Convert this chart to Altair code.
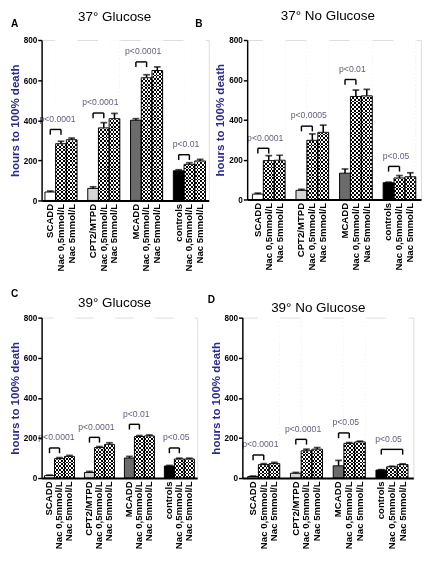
import altair as alt
import pandas as pd

# ---------------- data ----------------
groups = ["SCADD", "CPT2/MTPD", "MCADD", "controls"]
treatments = ["Nac 0,5mmol/L", "Nac 5mmol/L"]
group_fills = ["#ffffff", "#d4d4d4", "#6b6b6b", "#000000"]

titles = ["37° Glucose", "37° No Glucose", "39° Glucose", "39° No Glucose"]
y_ticks = [0, 200, 400, 600, 800]

a_mean = [42, 283, 303, 60, 362, 408, 400, 612, 648, 148, 180, 197]
a_err = [5, 12, 8, 8, 26, 26, 8, 15, 18, 5, 8, 8]
a_brk_level = [354, 436, 691, 228]
a_brk_p = ["p<0.0001", "p<0.0001", "p<0.0001", "p<0.01"]
a_brk_end = [1, 1, 1, 1]

b_mean = [27, 195, 197, 46, 297, 337, 132, 517, 520, 84, 108, 114]
b_err = [5, 25, 25, 5, 32, 36, 21, 32, 32, 3, 12, 20]
b_brk_level = [257, 368, 602, 166]
b_brk_p = ["p<0.0001", "p<0.0005", "p<0.01", "p<0.05"]
b_brk_end = [1, 1, 1, 1]

c_mean = [12, 97, 108, 28, 152, 168, 100, 207, 210, 60, 95, 95]
c_err = [3, 5, 5, 5, 5, 8, 8, 5, 5, 3, 4, 4]
c_brk_level = [150, 203, 268, 150]
c_brk_p = ["p<0.0001", "p<0.0001", "p<0.01", "p<0.05"]
c_brk_end = [1, 1, 1, 1]

d_mean = [8, 67, 72, 24, 136, 144, 61, 173, 180, 40, 56, 67]
d_err = [2, 5, 6, 4, 8, 8, 27, 4, 4, 2, 3, 4]
d_brk_level = [115, 193, 225, 143]
d_brk_p = ["p<0.0001", "p<0.0001", "p<0.05", "p<0.05"]
d_brk_end = [1, 1, 1, 2]

# ---------------- styling ----------------
FONT = "Liberation Sans, Arial, sans-serif"
P_COLOR = "#665c7e"
TITLE_BLUE = "#2a2a8c"


def key(gi, bi):
    lab = groups[gi] if bi == 0 else treatments[bi - 1]
    return f"{gi}{bi}|{lab}"


domain = []
for gi in range(len(groups)):
    for bi in range(3):
        domain.append(key(gi, bi))
    if gi < len(groups) - 1:
        domain.append(f"{gi}s|")


def stripes(n, vertical):
    stops = []
    for i in range(n):
        c = "#000000" if i % 2 == 0 else "#ffffff"
        stops.append(alt.GradientStop(offset=i / n, color=c))
        stops.append(alt.GradientStop(offset=(i + 1) / n, color=c))
    if vertical:
        return alt.LinearGradient(gradient="linear", stops=stops, x1=0, x2=1, y1=0, y2=0)
    return alt.LinearGradient(gradient="linear", stops=stops, x1=0, x2=0, y1=0, y2=1)


def panel(idx, means, errs, levels, plabels, ends, W, H, po, title_pos, letter_specs):
    rows = []
    for gi in range(len(groups)):
        for bi in range(3):
            i = gi * 3 + bi
            rows.append({
                "key": key(gi, bi),
                "mean": means[i],
                "top": means[i] + errs[i],
                "chk": bi > 0,
                "fill": group_fills[gi] if bi == 0 else "transparent",
            })
    df = pd.DataFrame(rows)
    br = pd.DataFrame({
        "k1": [key(gi, 0) for gi in range(len(groups))],
        "k2": [key(gi, ends[gi]) for gi in range(len(groups))],
        "level": levels,
        "p": plabels,
    })
    step = W / (len(domain) + 2 * po)

    xs = alt.Scale(domain=domain, paddingInner=0, paddingOuter=po)
    ys = alt.Scale(domain=[0, 800], nice=False, zero=True)
    xaxis = alt.Axis(title=None, labelAngle=270, labelExpr="split(datum.value, '|')[1]",
                     ticks=False, labelFontSize=10, labelFontWeight="bold", labelFont=FONT,
                     labelColor="black", domainColor="black", domainWidth=2, labelPadding=3,
                     labelLimit=300, labelOverlap=False, zindex=1)
    yaxis = alt.Axis(title="hours to 100% death", values=y_ticks, format="d", grid=False,
                     labelFontSize=8.5, labelFontWeight="bold", labelFont=FONT, labelColor="black",
                     domainColor="black", domainWidth=1.5, tickColor="black", tickWidth=1.5,
                     tickSize=4, labelPadding=1, titleColor=TITLE_BLUE, titleFontSize=12,
                     titleFontWeight="bold", titleFont=FONT, titlePadding=2, zindex=1)

    def X(f, **kw):
        return alt.X(f, type="nominal", scale=xs, axis=xaxis, **kw)

    def Y(f):
        return alt.Y(f, type="quantitative", scale=ys, axis=yaxis)

    base = alt.Chart(df)
    chk = base.transform_filter("datum.chk")

    col0 = chk.mark_bar(fill=stripes(int(round(H / 1.9)), False), strokeWidth=0).encode(
        x=X("key"), y=alt.datum(0), y2=alt.datum(800))
    vbar = chk.mark_bar(fill=stripes(6, True), strokeWidth=0, blend="difference").encode(
        x=X("key"), y=Y("mean"), y2=alt.datum(0))
    cover = chk.mark_bar(fill="white", stroke="white", strokeWidth=1.2).encode(
        x=X("key"), y=Y("mean"), y2=alt.datum(800))
    bars = base.mark_bar(stroke="black", strokeWidth=1).encode(
        x=X("key"), y=Y("mean"), fill=alt.Fill("fill:N", scale=None))
    whisk = base.mark_rule(color="black", strokeWidth=1.6).encode(
        x=X("key"), y=Y("mean"), y2="top:Q")
    caps = base.mark_tick(color="black", thickness=1.8, size=7).encode(
        x=X("key"), y=Y("top"))

    bb = alt.Chart(br).transform_calculate(lo="datum.level - 26")
    hrule = bb.mark_rule(color="black", strokeWidth=1.5).encode(
        x=X("k1"), x2="k2:N", y=Y("level"))
    leg1 = bb.mark_rule(color="black", strokeWidth=1.5).encode(
        x=X("k1"), y=Y("level"), y2="lo:Q")
    leg2 = bb.mark_rule(color="black", strokeWidth=1.5).encode(
        x=X("k2"), y=Y("level"), y2="lo:Q")
    ptxt = bb.mark_text(font=FONT, fontSize=9, color=P_COLOR, align="center",
                        baseline="alphabetic", dy=-8, dx=step / 2 + 2).encode(
        x=X("k1"), y=Y("level"), text="p:N")

    layers = [col0, vbar, cover, bars, whisk, caps, hrule, leg1, leg2, ptxt]

    tdf = pd.DataFrame({"t": [titles[idx]]})
    layers.append(alt.Chart(tdf).mark_text(font=FONT, fontSize=14, align="center",
                                           baseline="alphabetic", color="black").encode(
        x=alt.value(title_pos[0]), y=alt.value(title_pos[1]), text="t:N"))
    for (lt, lx, ly) in letter_specs:
        ldf = pd.DataFrame({"t": [lt]})
        layers.append(alt.Chart(ldf).mark_text(font=FONT, fontSize=10.5, fontWeight="bold",
                                               align="left", baseline="alphabetic",
                                               color="black").encode(
            x=alt.value(lx), y=alt.value(ly), text="t:N"))

    return alt.layer(*layers).properties(width=W, height=H)


pA = panel(0, a_mean, a_err, a_brk_level, a_brk_p, a_brk_end, 174, 167, 0.31,
           (76, -20), [("A", -32, -14), ("B", 160, -14)])
pB = panel(1, b_mean, b_err, b_brk_level, b_brk_p, b_brk_end, 181, 166, 0.48,
           (84, -21), [])
pC = panel(2, c_mean, c_err, c_brk_level, c_brk_p, c_brk_end, 162, 167, 0.29,
           (76, -11), [("C", -32, -21)])
pD = panel(3, d_mean, d_err, d_brk_level, d_brk_p, d_brk_end, 178, 167, 0.5,
           (79, -6), [("D", -36, -15)])

chart = alt.vconcat(
    alt.hconcat(pA, pB, spacing=4),
    alt.hconcat(pC, pD, spacing=9),
    spacing=17,
).properties(padding={"top": -11, "left": 0, "right": 0, "bottom": 0}).configure_view(
    stroke=None).configure(background="white")

chart.save("out.html", embed_options={"renderer": "svg", "actions": False})
